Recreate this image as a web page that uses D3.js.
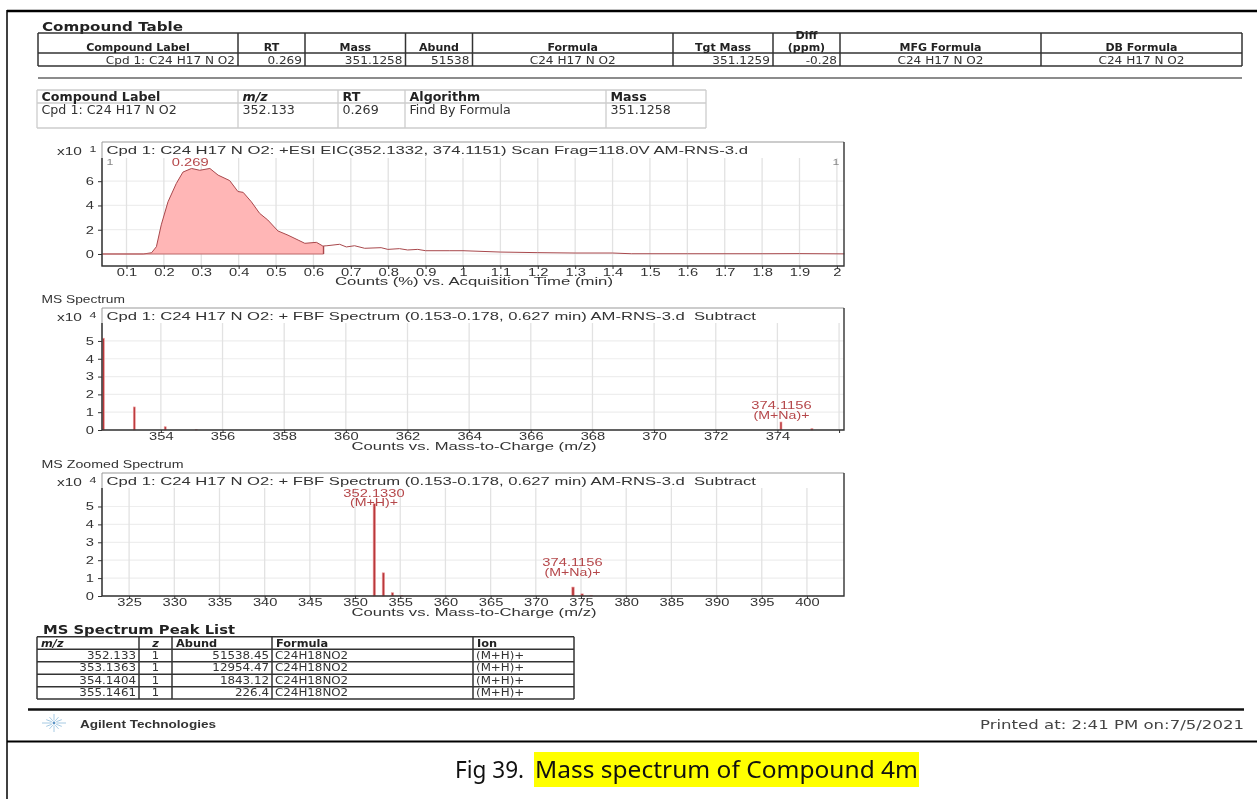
<!DOCTYPE html>
<html><head><meta charset="utf-8">
<style>html,body{margin:0;padding:0;background:#fff}svg{display:block;filter:blur(0.45px)}</style>
<script src="https://cdn.jsdelivr.net/npm/d3@7"></script></head>
<body><svg id="c" width="1257" height="799"></svg>
<script>
// ---------- DATA ----------
const eicTimes = [0.034,0.145,0.167,0.18,0.193,0.211,0.233,0.251,0.274,0.296,0.323,0.345,0.376,0.398,0.412,0.434,0.456,0.478,0.505,0.532,0.559,0.577,0.608,0.625,0.627,0.636,0.67,0.688,0.71,0.737,0.781,0.799,0.83,0.852,0.879,0.90,0.963,1.0,1.1,1.2,1.3,1.4,1.45,1.6,1.8,1.9,2.02];
const eicCounts = [0,0,0.1,0.6,2.4,4.3,5.8,6.75,7.05,6.9,7.05,6.5,6.05,5.15,5.08,4.3,3.35,2.8,1.9,1.55,1.15,0.88,0.96,0.66,0.66,0.68,0.8,0.58,0.68,0.47,0.52,0.38,0.44,0.33,0.38,0.27,0.27,0.27,0.16,0.11,0.08,0.08,0.02,0.02,0.02,0.03,0.01];
const eicFillEnd = 0.627;
const eicXTicks = [0.1,0.2,0.3,0.4,0.5,0.6,0.7,0.8,0.9,1,1.1,1.2,1.3,1.4,1.5,1.6,1.7,1.8,1.9,2];
const eicYTicks = [0,2,4,6];
const msMz = [352.133,353.1363,354.1404,355.1461,374.1156,375.12];
const msAbund = [5.154,1.295,0.184,0.023,0.45,0.08];
const msXTicks = [354,356,358,360,362,364,366,368,370,372,374,376];
const msXUnlabeled = [376];
const msYTicks = [0,1,2,3,4,5];
const zoomMz = [352.133,353.1363,354.1404,355.1461,374.1156,375.12,376.12];
const zoomAbund = [5.154,1.295,0.184,0.023,0.5,0.12,0.04];
const zoomXTicks = [325,330,335,340,345,350,355,360,365,370,375,380,385,390,395,400];
const t1Headers = ["Compound Label","RT","Mass","Abund","Formula","Tgt Mass","(ppm)","MFG Formula","DB Formula"];
const t1Row = ["Cpd 1: C24 H17 N O2","0.269","351.1258","51538","C24 H17 N O2","351.1259","-0.28","C24 H17 N O2","C24 H17 N O2"];
const t2Headers = ["Compound Label","m/z","RT","Algorithm","Mass"];
const t2Row = ["Cpd 1: C24 H17 N O2","352.133","0.269","Find By Formula","351.1258"];
const t3Headers = ["m/z","z","Abund","Formula","Ion"];
const t3Rows = [["352.133","1","51538.45","C24H18NO2","(M+H)+"],["353.1363","1","12954.47","C24H18NO2","(M+H)+"],["354.1404","1","1843.12","C24H18NO2","(M+H)+"],["355.1461","1","226.4","C24H18NO2","(M+H)+"]];
const eicTitle = "Cpd 1: C24 H17 N O2: +ESI EIC(352.1332, 374.1151) Scan Frag=118.0V AM-RNS-3.d";
const fbfTitle = "Cpd 1: C24 H17 N O2: + FBF Spectrum (0.153-0.178, 0.627 min) AM-RNS-3.d  Subtract";

// ---------- HELPERS ----------
const svg = d3.select("#c");
const SANS = "'Liberation Sans',Arial,sans-serif", VER = "'DejaVu Sans',Verdana,sans-serif";
const RED = "#b5474a", AXC = "#333";
function txt(g,s,x,y,o={}){
  const t=g.append("text").attr("x",x).attr("y",y).text(s)
    .attr("font-family",o.font||SANS).attr("font-size",o.size||10)
    .attr("font-weight",o.bold?"bold":"normal").attr("font-style",o.italic?"italic":"normal")
    .attr("fill",o.fill||"#333").attr("text-anchor",o.anchor||"start").style("white-space","pre");
  const n=t.node();
  if(o.width) t.attr("textLength",o.width).attr("lengthAdjust","spacingAndGlyphs");
  else if(o.k) t.attr("textLength",n.getComputedTextLength()*o.k).attr("lengthAdjust","spacingAndGlyphs");
  return t;
}
function line(x1,y1,x2,y2,c,w){svg.append("line").attr("x1",x1).attr("y1",y1).attr("x2",x2).attr("y2",y2).attr("stroke",c).attr("stroke-width",w);}

// page rules
line(7,11,1257,11,"#000",2.5);
line(7,10,7,799,"#000",1.5);
line(28,709.5,1244,709.5,"#111",2.5);
line(7,741.5,1257,741.5,"#000",2);
line(38,78,1242,78,"#666",1.5);

function grid(g,xs,ys,color,w){
  ys.forEach(y=>g.append("line").attr("x1",xs[0]).attr("x2",xs[xs.length-1]).attr("y1",y).attr("y2",y).attr("stroke",color).attr("stroke-width",w));
  xs.forEach(x=>g.append("line").attr("x1",x).attr("x2",x).attr("y1",ys[0]).attr("y2",ys[ys.length-1]).attr("stroke",color).attr("stroke-width",w));
}
// Compound Table
const t1=svg.append("g");
txt(t1,"Compound Table",42,30.5,{font:VER,bold:true,size:11.5,width:141,fill:"#222"});
const t1X=[38,238,305,405.5,472.5,673,773,840,1041,1242];
grid(t1,t1X,[33,53,66],"#333",1.5);
t1Headers.forEach((h,i)=>txt(t1,h,(t1X[i]+t1X[i+1])/2,51,{font:VER,bold:true,size:10.5,k:1.05,anchor:"middle",fill:"#222"}));
txt(t1,"Diff",(773+840)/2,38.5,{font:VER,bold:true,size:10.5,k:1.05,anchor:"middle",fill:"#222"});
const t1Right=[true,true,true,true,false,true,true,false,false];
t1Row.forEach((v,i)=>txt(t1,v,t1Right[i]?t1X[i+1]-3:(t1X[i]+t1X[i+1])/2,63.5,{font:VER,size:10.5,k:1.15,anchor:t1Right[i]?"end":"middle"}));
// Detail table
const t2=svg.append("g");
const t2X=[37,238,338,405,606,706];
grid(t2,t2X,[90,103,128],"#ccc",1.3);
t2Headers.forEach((h,i)=>txt(t2,h,t2X[i]+4.5,100.5,{font:VER,bold:true,italic:i==1,size:11.5,k:1.1,fill:"#222"}));
t2Row.forEach((v,i)=>txt(t2,v,t2X[i]+4.5,113.5,{font:VER,size:11.5,k:1.1}));
// Peak list
const t3=svg.append("g");
txt(t3,"MS Spectrum Peak List",43,634,{font:VER,bold:true,size:11.5,width:192,fill:"#222"});
const t3X=[37,139,172,272,473,574],t3Y=[636.7,649.3,661.7,674.3,686.7,699];
grid(t3,t3X,t3Y,"#333",1.5);
t3Headers.forEach((h,i)=>txt(t3,h,i==1?155.5:t3X[i]+4,646.5,{font:VER,bold:true,italic:i<2,size:10.5,k:1.08,anchor:i==1?"middle":"start",fill:"#222"}));
t3Rows.forEach((r,j)=>r.forEach((v,i)=>{
  const y=t3Y[j+1]+9.5;
  if(i==0||i==2) txt(t3,v,t3X[i+1]-3,y,{font:VER,size:10.5,k:1.13,anchor:"end"});
  else if(i==1) txt(t3,v,155.5,y,{font:VER,size:10.5,k:1.1,anchor:"middle"});
  else txt(t3,v,t3X[i]+3,y,{font:VER,size:10.5,k:1.13});
}));

// ---------- PANELS ----------
function panel(o){
  const g=svg.append("g");
  const L=102,R=844,T=o.top,B=o.bottom;
  const x=d3.scaleLinear().domain(o.xd).range([L,R]);
  const y=d3.scaleLinear().domain(o.yd).range([B,T]);
  g.append("g").selectAll("line").data(o.yTicks).join("line").attr("x1",L).attr("x2",R).attr("y1",d=>y(d)).attr("y2",d=>y(d)).attr("stroke","#eeeeee").attr("stroke-width",1.2);
  g.append("g").selectAll("line").data(o.xTicks).join("line").attr("x1",d=>x(d)).attr("x2",d=>x(d)).attr("y1",o.gridTop).attr("y2",B).attr("stroke","#e2e2e2").attr("stroke-width",1.3);
  o.draw(g,x,y);
  g.append("path").attr("d",`M${L},${B}V${T}H${R}`).attr("fill","none").attr("stroke","#999").attr("stroke-width",1);
  g.append("path").attr("d",`M${L},${o.gridTop}V${B}H${R}V${T}`).attr("fill","none").attr("stroke",AXC).attr("stroke-width",1.4);
  const ax=g.append("g").attr("transform",`translate(0,${B})`).call(d3.axisBottom(x).tickValues(o.xTicks).tickSize(3).tickPadding(2).tickFormat(d=>(o.xHide||[]).includes(d)?"":String(d)));
  ax.select(".domain").remove();
  ax.selectAll("line").attr("stroke",AXC);
  const ay=g.append("g").attr("transform",`translate(${L},0)`).call(d3.axisLeft(y).tickValues(o.yTicks).tickSize(4).tickPadding(4).tickFormat(d3.format("d")));
  ay.select(".domain").remove();
  ay.selectAll("line").attr("stroke",AXC);
  [ax,ay].forEach(a=>{a.attr("font-family",null).attr("font-size",null);a.selectAll("text").attr("font-family",SANS).attr("font-size",10.5).attr("fill","#333");});
  ax.selectAll("text").attr("dy",null).attr("y",o.tickBase-B).each(function(){const n=this;if(n.textContent){n.setAttribute("textLength",n.getComputedTextLength()*1.4);n.setAttribute("lengthAdjust","spacingAndGlyphs");}});
  ay.selectAll("text").each(function(){const n=this;n.setAttribute("textLength",n.getComputedTextLength()*1.4);n.setAttribute("lengthAdjust","spacingAndGlyphs");});
  txt(g,o.title,106.5,T+11.5,{size:10.8,width:o.titleW,fill:"#333"});
  txt(g,"x10",57,T+13,{size:10.5,width:25,fill:"#333"});
  txt(g,o.exp,89.5,T+10,{size:9.5,k:1.3,fill:"#333"});
  txt(g,o.xlabel,o.xlabelC,o.xlabelBase,{size:10.5,width:o.xlabelW,anchor:"middle",fill:"#333"});
  return g;
}
function ann(g,a,b,cx,by){
  txt(g,a,cx,by,{size:10.5,k:1.4,anchor:"middle",fill:RED});
  if(b) txt(g,b,cx,by+9.5,{size:10.5,k:1.35,anchor:"middle",fill:RED});
}
function sticks(g,x,y,mz,ab,w){
  g.append("g").selectAll("rect").data(mz).join("rect")
   .attr("x",d=>x(d)-w/2).attr("width",w)
   .attr("y",(d,i)=>y(ab[i])).attr("height",(d,i)=>y(0)-y(ab[i]))
   .attr("fill","#b8383c").attr("stroke","#f0a0a0").attr("stroke-width",0.6);
}

panel({top:142,bottom:266,gridTop:158,xd:[0.0345,2.019],yd:[-0.99,9.23],xTicks:eicXTicks,yTicks:eicYTicks,tickBase:275.5,
  title:eicTitle,titleW:641.5,exp:"1",xlabel:"Counts (%) vs. Acquisition Time (min)",xlabelC:474,xlabelBase:285,xlabelW:278,
  draw(g,x,y){
    const pts=eicTimes.map((t,i)=>[t,eicCounts[i]]);
    const inFill=pts.filter(p=>p[0]<=eicFillEnd);
    g.append("path").datum(inFill).attr("fill","#ffb6b6")
      .attr("d",d3.area().x(d=>x(d[0])).y0(y(0)).y1(d=>y(d[1])));
    g.append("path").datum(pts).attr("fill","none").attr("stroke","#a8484c").attr("stroke-width",1)
      .attr("d",d3.line().x(d=>x(d[0])).y(d=>y(d[1])));
    g.append("line").attr("x1",x(eicTimes[0])).attr("x2",x(eicFillEnd)).attr("y1",y(0)).attr("y2",y(0)).attr("stroke","#c06a6c").attr("stroke-width",1);
    g.append("line").attr("x1",x(eicFillEnd)).attr("x2",x(eicFillEnd)).attr("y1",y(0.66)).attr("y2",y(0)).attr("stroke","#a8484c").attr("stroke-width",1.4);
    txt(g,"0.269",x(0.269)+0.5,166,{size:10.5,k:1.4,anchor:"middle",fill:RED});
    txt(g,"1",110,165,{size:9.5,k:1.3,anchor:"middle",fill:"#888"});
    txt(g,"1",836,165,{size:9.5,k:1.3,anchor:"middle",fill:"#888"});
  }});

panel({top:308,bottom:430,gridTop:323,xd:[352.09,376.16],yd:[0,6.85],xTicks:msXTicks,xHide:msXUnlabeled,yTicks:msYTicks,tickBase:440,
  title:fbfTitle,titleW:649.5,exp:"4",xlabel:"Counts vs. Mass-to-Charge (m/z)",xlabelC:474,xlabelBase:449.5,xlabelW:245,
  draw(g,x,y){
    sticks(g,x,y,msMz,msAbund,2);
    ann(g,"374.1156","(M+Na)+",781.5,409);
  }});

panel({top:473,bottom:596,gridTop:488,xd:[322,404.1],yd:[0,6.87],xTicks:zoomXTicks,yTicks:msYTicks,tickBase:606,
  title:fbfTitle,titleW:649.5,exp:"4",xlabel:"Counts vs. Mass-to-Charge (m/z)",xlabelC:474,xlabelBase:615.5,xlabelW:245,
  draw(g,x,y){
    sticks(g,x,y,zoomMz,zoomAbund,2.4);
    ann(g,"352.1330","(M+H)+",374,496.7);
    ann(g,"374.1156","(M+Na)+",572.5,566);
  }});

txt(svg,"MS Spectrum",41.5,303,{size:10.5,width:83.5,fill:"#333"});
txt(svg,"MS Zoomed Spectrum",41.5,468,{size:10.5,width:142,fill:"#333"});

// footer
const logo=svg.append("g").attr("transform","translate(54,723)");
d3.range(0,12).forEach(i=>{
  const a=i*Math.PI/6,r=(i%3==0)?12:9;
  logo.append("line").attr("x1",2.5*Math.cos(a)).attr("y1",2.5*Math.sin(a)).attr("x2",r*Math.cos(a)).attr("y2",r*0.75*Math.sin(a)).attr("stroke","#9cc4e0").attr("stroke-width",0.9);
});
logo.append("circle").attr("r",1.4).attr("fill","#5b93c4");
txt(svg,"Agilent Technologies",80,728,{font:SANS,bold:true,size:10.5,width:136,fill:"#333"});
txt(svg,"Printed at: 2:41 PM on:7/5/2021",1244,729,{font:VER,size:11.5,width:264,anchor:"end",fill:"#444"});

// caption
svg.append("rect").attr("x",534).attr("y",752).attr("width",385).attr("height",35).attr("fill","#ffff00");
txt(svg,"Fig 39. ",455,778,{font:"'Noto Sans',sans-serif",size:24,width:75,fill:"#111"});
txt(svg,"Mass spectrum of Compound 4m",535,778,{font:"'Noto Sans',sans-serif",size:24,width:383,fill:"#111"});
</script></body></html>
